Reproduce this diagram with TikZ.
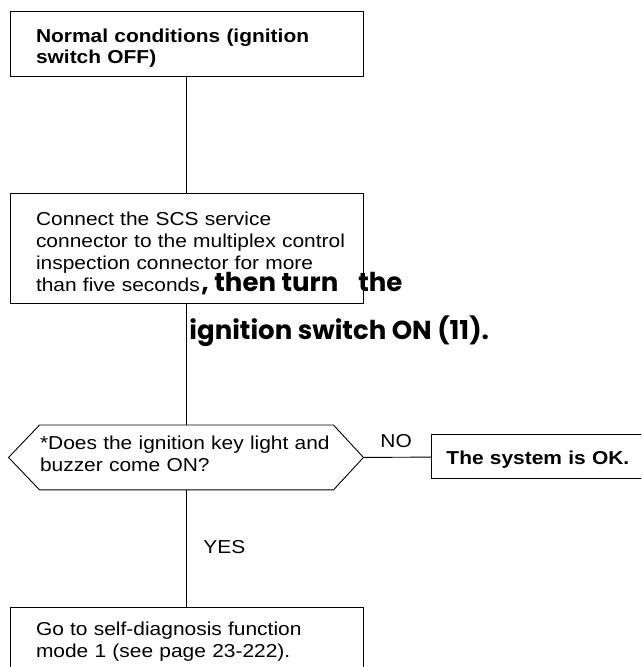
\documentclass[tikz,border=0pt]{standalone}
\usepackage{fontspec}
\setmainfont{Liberation Sans}[FakeStretch=1.12]
\newfontfamily\handfont{Poppins}
\tikzstyle{pbox} = [draw, rectangle, text width=301pt, inner xsep=26pt, inner ysep=0pt, minimum width=353pt,
    align=left, font=\fontsize{18.7}{22}\selectfont]
\tikzstyle{qtext} = [inner sep=0pt, align=left, font=\fontsize{18.7}{22}\selectfont]
\tikzstyle{hand} = [inner sep=0pt, anchor=base west, font=\handfont\bfseries\fontsize{26}{28}\selectfont]
\tikzstyle{lbl} = [inner sep=0pt, anchor=base west, font=\fontsize{18.7}{22}\selectfont]
\newcommand{\qoutline}[1]{
    \draw ([xshift=-31pt]#1.west) -- (#1.north west) -- (#1.north east) -- ([xshift=30pt]#1.east) -- (#1.south east) -- (#1.south west) -- cycle;
}

\begin{document}
\begin{tikzpicture}[x=1pt, y=-1pt, line width=0.9pt]
	\useasboundingbox (0,0) rectangle (641,667);
	\clip (0,0) rectangle (641,667);

	\node(start) at (186.5,11) [pbox, anchor=north, text height=31pt, text depth=34pt, font=\bfseries\fontsize{18.7}{21}\selectfont] {Normal conditions (ignition\\switch OFF)};

	\node(connect) at (186.5,193) [pbox, anchor=north, text height=32pt, text depth=78pt] {Connect the SCS service\\\mbox{connector to the multiplex control}\\inspection connector for more\\than five seconds};
	\node(hand1) at (201,291) [hand] {, then turn\hspace{20pt}the};
	\node(hand2) at (189,339) [hand] {ignition switch ON (11).};

	\node(query) at (186.5,425) [qtext, anchor=north, minimum width=293pt, text width=293pt, text height=24pt, text depth=40pt] {\mbox{*Does the ignition key light and}\\buzzer come ON?};
	\qoutline{query};

	\node(ok) at (431,434) [pbox, anchor=north west, minimum width=230pt, text width=200pt, inner xsep=15pt, text height=30pt, text depth=14pt, font=\bfseries\fontsize{18.7}{22}\selectfont] {The system is OK.};
	\node(no) at (380,447) [lbl] {NO};

	\node(goto) at (186.5,607) [pbox, anchor=north, text height=28pt, text depth=60pt] {Go to self-diagnosis function\\mode 1 (see page 23-222).};
	\node(yes) at (203,553) [lbl] {YES};

	\draw (start) -- (connect);
	\draw (connect) -- (query);
	\draw ([xshift=30pt]query.east) -- (ok);
	\draw (query) -- (goto);
\end{tikzpicture}
\end{document}
